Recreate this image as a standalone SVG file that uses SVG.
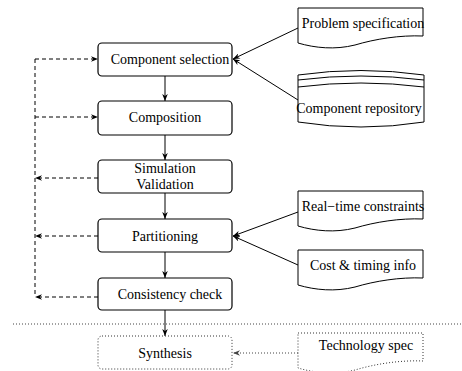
<svg xmlns="http://www.w3.org/2000/svg" width="462" height="371" viewBox="0 0 462 371">
  <style>
    .lbl { font-family: "Liberation Serif", "DejaVu Serif", serif; font-size: 14px; fill: #000; text-anchor: middle; }
    .box { fill: #fff; stroke: #000; stroke-width: 1.2; }
    .dotbox { fill: #fff; stroke: #333; stroke-width: 1; stroke-dasharray: 1 2; }
    .doc { fill: #fff; stroke: #000; stroke-width: 1; }
    .solid { fill: none; stroke: #000; stroke-width: 1; }
    .dashed { fill: none; stroke: #000; stroke-width: 1; stroke-dasharray: 4 3; }
    .dotted { fill: none; stroke: #444; stroke-width: 1; stroke-dasharray: 1 2; }
  </style>
  <defs>
    <marker id="arr" viewBox="0 0 10 8" refX="10" refY="4" markerWidth="7" markerHeight="5.6" markerUnits="userSpaceOnUse" orient="auto">
      <path d="M0,0 L10,4 L0,8 L3,4 Z" fill="#000"/>
    </marker>
    <marker id="arrGray" viewBox="0 0 10 8" refX="10" refY="4" markerWidth="7" markerHeight="5.6" markerUnits="userSpaceOnUse" orient="auto">
      <path d="M0,0 L10,4 L0,8 L3,4 Z" fill="#444"/>
    </marker>
    <!-- document shape with wavy lower edge, origin at top-left -->
    <path id="docShape" d="M0,0 H125 V28 C102,27 77,31 57,37 C37,42 17,40 0,35 Z"/>
  </defs>

  <!-- separator -->
  <line x1="13" y1="324" x2="462" y2="324" class="dotted"/>

  <g id="connectors">
    <!-- main flow -->
    <line x1="165" y1="76" x2="165" y2="101" class="solid" marker-end="url(#arr)"/>
    <line x1="165" y1="135" x2="165" y2="160" class="solid" marker-end="url(#arr)"/>
    <line x1="165" y1="193" x2="165" y2="219" class="solid" marker-end="url(#arr)"/>
    <line x1="165" y1="252" x2="165" y2="278" class="solid" marker-end="url(#arr)"/>
    <line x1="165" y1="310" x2="165" y2="336" class="solid" marker-end="url(#arr)"/>
    <!-- inputs -->
    <line x1="298" y1="28" x2="233" y2="59" class="solid" marker-end="url(#arr)"/>
    <line x1="298" y1="100" x2="233" y2="59" class="solid" marker-end="url(#arr)"/>
    <line x1="298" y1="212" x2="233" y2="236" class="solid" marker-end="url(#arr)"/>
    <line x1="298" y1="265" x2="233" y2="236" class="solid" marker-end="url(#arr)"/>
    <line x1="298" y1="353" x2="233" y2="353" class="dotted" marker-end="url(#arrGray)"/>
    <!-- feedback loop -->
    <line x1="35" y1="59" x2="35" y2="297" class="dashed"/>
    <line x1="35" y1="59" x2="98" y2="59" class="dashed" marker-end="url(#arr)"/>
    <line x1="35" y1="117" x2="98" y2="117" class="dashed" marker-end="url(#arr)"/>
    <line x1="98" y1="178" x2="35" y2="178" class="dashed" marker-end="url(#arr)"/>
    <line x1="98" y1="236" x2="35" y2="236" class="dashed" marker-end="url(#arr)"/>
    <line x1="98" y1="297" x2="35" y2="297" class="dashed" marker-end="url(#arr)"/>
  </g>

  <g id="component-selection">
    <rect x="98" y="43" width="134" height="33" rx="4" class="box"/>
    <text x="170" y="64" class="lbl">Component selection</text>
  </g>
  <g id="composition">
    <rect x="98" y="101" width="134" height="34" rx="4" class="box"/>
    <text x="165" y="122" class="lbl">Composition</text>
  </g>
  <g id="simulation-validation">
    <rect x="98" y="160" width="134" height="33" rx="4" class="box"/>
    <text x="165" y="173" class="lbl">Simulation</text>
    <text x="165" y="189" class="lbl">Validation</text>
  </g>
  <g id="partitioning">
    <rect x="98" y="219" width="134" height="33" rx="4" class="box"/>
    <text x="165" y="241" class="lbl">Partitioning</text>
  </g>
  <g id="consistency-check">
    <rect x="98" y="278" width="134" height="32" rx="4" class="box"/>
    <text x="170" y="299" class="lbl">Consistency check</text>
  </g>
  <g id="synthesis">
    <rect x="98" y="336" width="134" height="33" rx="4" class="dotbox"/>
    <text x="165" y="358" class="lbl">Synthesis</text>
  </g>

  <g id="problem-specification">
    <use href="#docShape" transform="translate(298,8)" class="doc"/>
    <text x="363" y="28" class="lbl">Problem specification</text>
  </g>
  <g id="component-repository">
    <path d="M298,75 V122 Q361,132 424,122 V75 Q361,66 298,75 Z" class="doc"/>
    <path d="M298,80 Q361,72 424,80 M298,87 Q361,79 424,87" class="solid"/>
    <text x="359" y="113" class="lbl">Component repository</text>
  </g>
  <g id="real-time-constraints">
    <use href="#docShape" transform="translate(298,191)" class="doc"/>
    <text x="363" y="211" class="lbl">Real−time constraints</text>
  </g>
  <g id="cost-timing-info">
    <use href="#docShape" transform="translate(298,250)" class="doc"/>
    <text x="363" y="270" class="lbl">Cost &amp; timing info</text>
  </g>
  <g id="technology-spec">
    <use href="#docShape" transform="translate(298,333)" class="dotbox"/>
    <text x="366" y="350" class="lbl">Technology spec</text>
  </g>
</svg>
